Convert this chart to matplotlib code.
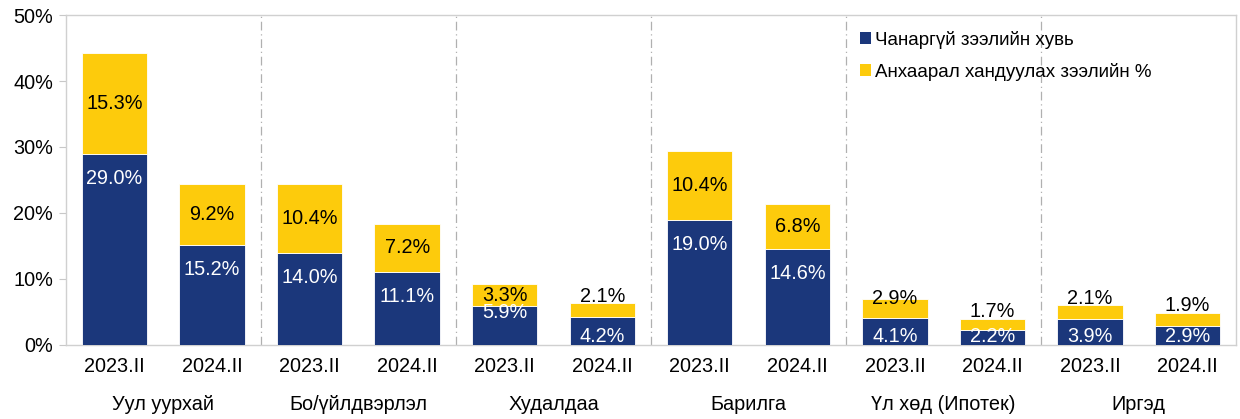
import matplotlib
matplotlib.use("Agg")
import matplotlib.pyplot as plt
from matplotlib.patches import Patch

plt.rcParams['font.family'] = ['Liberation Sans', 'DejaVu Sans']

sectors = ["Уул уурхай", "Бо/үйлдвэрлэл", "Худалдаа", "Барилга", "Үл хөд (Ипотек)", "Иргэд"]
periods = ["2023.II", "2024.II"]
npl = [29.0, 15.2, 14.0, 11.1, 5.9, 4.2, 19.0, 14.6, 4.1, 2.2, 3.9, 2.9]
watch = [15.3, 9.2, 10.4, 7.2, 3.3, 2.1, 10.4, 6.8, 2.9, 1.7, 2.1, 1.9]
series_names = ["Чанаргүй зээлийн хувь", "Анхаарал хандуулах зээлийн %"]

navy = "#1b377b"
yellow = "#fdcb0c"

fig = plt.figure(figsize=(12.4, 4.19), dpi=100)
ax = fig.add_axes([0.053, 0.177, 0.944, 0.787])

x = list(range(len(npl)))
w = 0.67
ax.bar(x, npl, width=w, color=navy, edgecolor="white", linewidth=0.6, zorder=3)
ax.bar(x, watch, width=w, bottom=npl, color=yellow, edgecolor="white", linewidth=0.6, zorder=3)

fs = 14.3
for i, (a, b) in enumerate(zip(npl, watch)):
    if a > 8:
        ya = a - 3.8
    elif a > 5:
        ya = a - 1.0
    else:
        ya = 1.2
    ax.text(i, ya, f"{a:.1f}%", ha="center", va="center", color="white", fontsize=fs, zorder=4)
    if b >= 3:
        yb = a + b / 2
    elif a + b > 6.5:
        yb = a + b
    else:
        yb = a + b + 1.1
    ax.text(i, yb, f"{b:.1f}%", ha="center", va="center", color="black", fontsize=fs, zorder=4)

ax.set_xlim(-0.5, len(npl) - 0.5)
ax.set_ylim(0, 50)
ax.set_yticks(range(0, 51, 10))
ax.set_yticklabels([f"{v}%" for v in range(0, 51, 10)], fontsize=fs)
ax.set_xticks(x)
ax.set_xticklabels([periods[i % 2] for i in x], fontsize=fs)
ax.tick_params(axis="x", length=0, pad=9)
ax.tick_params(axis="y", length=5, color="#c8c8c8", pad=4, direction="out")

for s in ax.spines.values():
    s.set_color("#d0d0d0")
    s.set_linewidth(1.0)

for k in range(1, len(sectors)):
    ax.axvline(2 * k - 0.5, color="#b0b0b0", linestyle=(0, (7, 3, 1, 3)), linewidth=0.9, zorder=1)

for k, name in enumerate(sectors):
    ax.text(2 * k + 0.5, -0.18, name, transform=ax.get_xaxis_transform(),
            ha="center", va="center", fontsize=fs)

handles = [Patch(facecolor=navy), Patch(facecolor=yellow)]
ax.legend(handles, series_names, loc="upper left", bbox_to_anchor=(0.672, 0.975),
          frameon=False, fontsize=13.5, handlelength=0.6, handleheight=0.6,
          handletextpad=0.2, labelspacing=0.75, borderaxespad=0)

fig.savefig("out.png", dpi=100, facecolor="white")
